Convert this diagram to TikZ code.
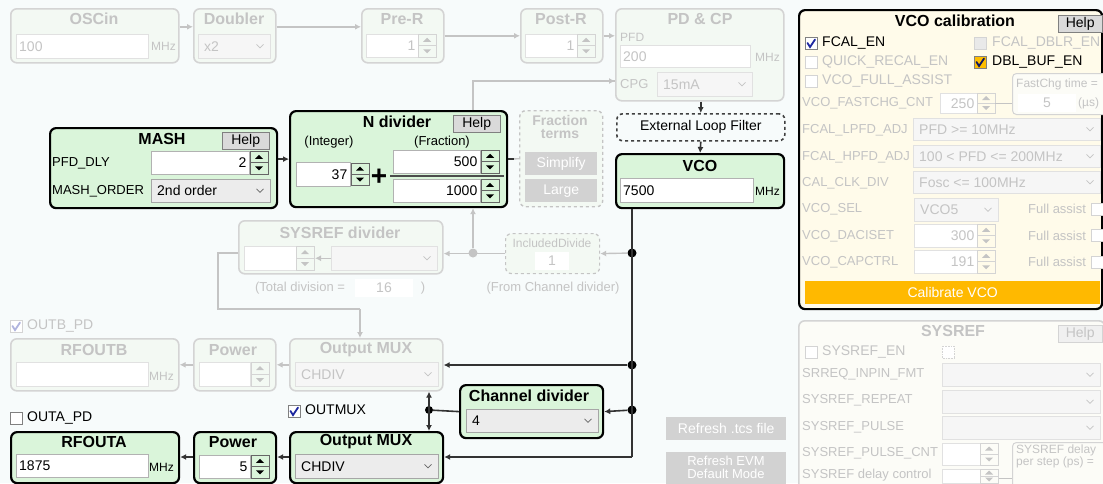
\documentclass[tikz,border=0pt]{standalone}
\usepackage{fontspec}
\setmainfont{Liberation Sans}
\usetikzlibrary{positioning}
\usetikzlibrary{arrows.meta}

\definecolor{bgc}{RGB}{247,251,251}
\definecolor{onfill}{RGB}{218,245,218}
\definecolor{offfill}{RGB}{243,249,243}
\definecolor{offline}{RGB}{212,212,212}
\definecolor{offtext}{RGB}{196,196,196}
\definecolor{calfill}{RGB}{255,251,234}
\definecolor{calbtn}{RGB}{255,185,0}
\definecolor{tickblue}{RGB}{30,40,160}
\definecolor{tickorange}{RGB}{255,190,0}
\definecolor{spinfill}{RGB}{218,218,218}
\definecolor{dropfill}{RGB}{236,236,236}
\definecolor{btngray}{RGB}{210,210,210}
\definecolor{sysfill}{RGB}{252,252,247}

\tikzset{
  blk/.style={draw=black, line width=2.2pt, rounded corners=6pt, fill=onfill, anchor=north west, inner sep=0},
  blkoff/.style={draw=offline, line width=1.6pt, rounded corners=6pt, fill=offfill, anchor=north west, inner sep=0},
  ttl/.style={font=\bfseries\fontsize{16}{16}\selectfont, inner sep=0},
  ttloff/.style={ttl, text=offtext},
  lbl/.style={font=\fontsize{13}{13}\selectfont, inner sep=0, anchor=west},
  lbloff/.style={lbl, text=offtext},
  cklbl/.style={lbl, font=\fontsize{14}{14}\selectfont},
  unit/.style={lbl, font=\fontsize{12}{12}\selectfont},
  unitoff/.style={unit, text=offtext},
  fldon/.style={draw=gray!60, fill=white, anchor=north west, inner sep=0, line width=0.5pt},
  fldoff/.style={draw=offline!70, fill=white, anchor=north west, inner sep=0, line width=0.5pt},
  valon/.style={font=\fontsize{14}{14}\selectfont, inner sep=0},
  valoff/.style={valon, text=offtext},
  dropon/.style={fldon, fill=dropfill, draw=gray!70},
  dropoff/.style={fldoff, fill=white!55!dropfill},
  chevon/.style={draw=gray!80!black, line width=0.7pt},
  chevoff/.style={draw=offtext, line width=0.7pt},
  spinon/.style={draw=gray!80!black, fill=spinfill, line width=0.5pt, spintri/.style={fill=black}},
  spinoff/.style={draw=offline, fill=white!60!spinfill, line width=0.5pt, spintri/.style={fill=offtext}},
  cbon/.style={draw=gray, fill=white, line width=0.6pt},
  cboff/.style={draw=offline, fill=white, line width=0.6pt},
  con/.style={draw=black!80, line width=1.6pt},
  conarr/.style={con, -{Latex[length=6pt,width=6pt]}},
  conoff/.style={draw=offtext, line width=1.4pt},
  conoffarr/.style={conoff, -{Latex[length=6pt,width=6pt]}},
  jdot/.style={circle, fill=black, inner sep=0, minimum size=9pt},
  jdotoff/.style={circle, fill=offtext, inner sep=0, minimum size=9pt},
  helpbtn/.style={draw=gray, fill=spinfill, anchor=north west, inner sep=0, font=\fontsize{14}{14}\selectfont},
  greybtn/.style={fill=btngray, anchor=north west, inner sep=0, text=white, font=\fontsize{14}{16}\selectfont},
}

\newcommand{\fldR}[7]{%
  \node[fld#6, minimum width=#4, minimum height=#5] (#1) at (#2,#3) {};
  \node[val#6, anchor=east] (#1-v) at ([xshift=-3pt]#1.east) {#7};}
\newcommand{\fldL}[7]{%
  \node[fld#6, minimum width=#4, minimum height=#5] (#1) at (#2,#3) {};
  \node[val#6, anchor=west] (#1-v) at ([xshift=3pt]#1.west) {#7};}
\newcommand{\drop}[7]{%
  \node[drop#6, minimum width=#4, minimum height=#5] (#1) at (#2,#3) {};
  \node[val#6, anchor=west] (#1-v) at ([xshift=6pt]#1.west) {#7};
  \draw[chev#6] ([xshift=-14pt,yshift=1.8pt]#1.east) -- ++(3.5,3.5) -- ++(3.5,-3.5);}
\newcommand{\spin}[4]{%
  \begin{scope}[spin#4]
    \draw (#1,#2) rectangle ++(18,#3);
    \draw (#1,{#2+#3/2}) -- ++(18,0);
    \fill[spintri] ({#1+5},{#2+#3/4+2}) -- ++(8,0) -- ++(-4,-4) -- cycle;
    \fill[spintri] ({#1+5},{#2+3*#3/4-2}) -- ++(8,0) -- ++(-4,4) -- cycle;
  \end{scope}}
\newcommand{\cbox}[3]{\draw[#3] (#1,#2) rectangle ++(12,12);}
\newcommand{\ctick}[3]{\draw[#3, line width=1.8pt, line cap=round] ({#1+2.5},{#2+6}) -- ({#1+5},{#2+10}) -- ({#1+10},{#2+2.5});}

\begin{document}
\begin{tikzpicture}[x=1pt, y=-1pt]
    \useasboundingbox (0,0) rectangle (1103,483);
    \fill[bgc] (0,0) rectangle (1103,483);

    % reference path (switched off)
    \node[blkoff, minimum width=168, minimum height=54] (OSCin) at (10,8) {};
    \node[ttloff] (OSCin-t) at (94,19) {OSCin};
    \fldL{OSCin-f}{16}{34}{132}{24}{off}{100}
    \node[unitoff] (OSCin-u) at (151,46) {MHz};

    \node[blkoff, minimum width=82, minimum height=54] (Doubler) at (193,8) {};
    \node[ttloff] (Doubler-t) at (234,19) {Doubler};
    \drop{Doubler-f}{198}{34}{72}{24}{off}{x2}

    \node[blkoff, minimum width=82, minimum height=54] (PreR) at (361,8) {};
    \node[ttloff] (PreR-t) at (402,19) {Pre-R};
    \fldR{PreR-f}{366}{34}{52}{23}{off}{1}
    \spin{418}{34}{23}{off}

    \node[blkoff, minimum width=82, minimum height=54] (PostR) at (520,8) {};
    \node[ttloff] (PostR-t) at (561,19) {Post-R};
    \fldR{PostR-f}{525}{34}{52}{23}{off}{1}
    \spin{577}{34}{23}{off}

    \node[blkoff, minimum width=168, minimum height=92] (PDCP) at (615,8) {};
    \node[ttloff] (PDCP-t) at (700,19) {PD \& CP};
    \node[unitoff] (PDCP-pfd) at (620,37) {PFD};
    \fldL{PDCP-f}{620}{45}{130}{22}{off}{200}
    \node[unitoff] (PDCP-u) at (755,57) {MHz};
    \node[lbloff] (PDCP-cpg) at (620,84) {CPG};
    \drop{PDCP-d}{657}{72}{95}{24}{off}{15mA}

    \draw[conoffarr] ([yshift=9pt]OSCin.east) -- ([yshift=9pt]Doubler.west);
    \draw[conoffarr] ([yshift=9pt]Doubler.east) -- ([yshift=9pt]PreR.west);
    \draw[conoffarr] (PreR.east) -- (PostR.west);
    \draw[conoffarr] (PostR.east) -- (PostR.east -| PDCP.west);

    % loop
    \node[blk, minimum width=227, minimum height=80] (MASH) at (49,127) {};
    \node[ttl] (MASH-t) at (162,139) {MASH};
    \node[helpbtn, minimum width=47, minimum height=17] (MASH-h) at (222,132) {Help};
    \node[lbl] (MASH-dly) at (52,163) {PFD\_DLY};
    \fldR{MASH-f}{151}{151}{98}{23}{on}{2}
    \spin{250}{151}{23}{on}
    \node[lbl] (MASH-ord) at (52,191) {MASH\_ORDER};
    \drop{MASH-d}{151}{179}{119}{23}{on}{2nd order}

    \node[blk, minimum width=217, minimum height=96] (Ndiv) at (289,110) {};
    \node[ttl] (Ndiv-t) at (397,122) {N divider};
    \node[helpbtn, minimum width=47, minimum height=17] (Ndiv-h) at (453,115) {Help};
    \node[lbl, anchor=center] (Ndiv-int) at (329,142) {(Integer)};
    \node[lbl, anchor=center] (Ndiv-frac) at (442,142) {(Fraction)};
    \fldR{Ndiv-i}{296}{162}{54}{24}{on}{37}
    \spin{351}{163}{22}{on}
    \node[font=\bfseries\fontsize{28}{28}\selectfont, inner sep=0] (Ndiv-plus) at (379,177) {+};
    \fldR{Ndiv-n}{393}{150}{87}{23}{on}{500}
    \spin{481}{150}{23}{on}
    \draw[draw=black!70, line width=2pt] (390,176) -- (504,176);
    \fldR{Ndiv-d}{393}{179}{87}{23}{on}{1000}
    \spin{481}{179}{23}{on}

    \node[blkoff, draw=offtext, dashed, line width=1.4pt, minimum width=83, minimum height=96] (FracT) at (519,110) {};
    \node[ttloff, font=\bfseries\fontsize{14}{13}\selectfont, align=center] (FracT-t) at (560,127) {Fraction\\terms};
    \node[greybtn, minimum width=72, minimum height=23] (FracT-s) at (525,152) {Simplify};
    \node[greybtn, minimum width=72, minimum height=23] (FracT-l) at (525,179) {Large};

    \node[draw=black!75, dashed, line width=1.6pt, rounded corners=6pt, fill=bgc, anchor=north west, minimum width=168, minimum height=27, inner sep=0, font=\fontsize{14}{14}\selectfont] (ELF) at (616,113) {External Loop Filter};

    \node[blk, minimum width=168, minimum height=54] (VCO) at (615,153) {};
    \node[ttl] (VCO-t) at (700,166) {VCO};
    \fldL{VCO-f}{620}{178}{133}{24}{on}{7500}
    \node[unit] (VCO-u) at (755,191) {MHz};

    \draw[conarr] (MASH.east |- Ndiv.west) -- (Ndiv.west);
    \draw[conoff] (Ndiv.east) -- (FracT.west);
    \draw[con] (Ndiv.east) -- ++(6,0);
    \draw[conarr] (PDCP.south -| ELF.north) -- (ELF.north);
    \draw[conarr] (ELF.south) -- (VCO.north);

    % sysref divider
    \node[blkoff, minimum width=204, minimum height=53] (SysDiv) at (238,220) {};
    \node[ttloff] (SysDiv-t) at (340,233) {SYSREF divider};
    \fldR{SysDiv-f}{244}{246}{52}{24}{off}{}
    \spin{296}{246}{24}{off}
    \drop{SysDiv-d}{331}{246}{106}{24}{off}{}
    \draw[conoffarr] (SysDiv-d.west) -- ++(-16,0);
    \node[lbloff, anchor=center] (SysDiv-tot) at (300,288) {(Total division =};
    \node[valoff, fill=white, minimum width=58, minimum height=18] (SysDiv-n) at (384,288) {16};
    \node[lbloff, anchor=center] (SysDiv-cl) at (423,288) {)};

    \node[blkoff, draw=offtext, dashed, line width=1.2pt, minimum width=94, minimum height=40] (IncDiv) at (505,233) {};
    \node[unitoff, anchor=center] (IncDiv-t) at (552,243) {IncludedDivide};
    \node[valoff, fill=white, minimum width=34, minimum height=18] (IncDiv-v) at (552,261) {1};
    \node[lbloff, anchor=center] (IncDiv-from) at (553,288) {(From Channel divider)};

    \node[jdot] (d1) at (632,253) {};
    \node[jdot] (d2) at (632,365) {};
    \node[jdot] (d3) at (632,410) {};
    \coordinate (d4) at (632,457);
    \node[jdotoff] (gd) at (473,253) {};
    \coordinate (sbend) at (360,309);

    \draw[conoff] (Ndiv.north -| gd) |- (PDCP.west |- 0,81);
    \draw[conoffarr] ([xshift=-8pt]PDCP.west |- 0,81) -- (PDCP.west |- 0,81);
    \draw[conoffarr] (d1) -- (IncDiv.east);
    \draw[conoffarr] (IncDiv.west) -- (SysDiv.east |- IncDiv.west);
    \draw[conoffarr] (gd) -- (Ndiv.south -| gd);
    \draw[conoff] (SysDiv.west |- d1) -- ++(-20,0) |- (sbend);
    \draw[conoffarr] (sbend) -- (sbend |- 0,338);

    % outputs
    \cbox{10}{320}{cboff}
    \ctick{10}{320}{tickblue!35}
    \node[cklbl, text=offtext] (OUTB-pd) at (27,326) {OUTB\_PD};

    \node[blkoff, minimum width=168, minimum height=52] (RFOUTB) at (10,338) {};
    \node[ttloff] (RFOUTB-t) at (94,350) {RFOUTB};
    \fldL{RFOUTB-f}{16}{362}{132}{24}{off}{}
    \node[unitoff] (RFOUTB-u) at (149,376) {MHz};

    \node[blkoff, minimum width=82, minimum height=52] (PowB) at (193,338) {};
    \node[ttloff] (PowB-t) at (233,350) {Power};
    \fldR{PowB-f}{199}{362}{51}{24}{off}{}
    \spin{251}{362}{24}{off}

    \node[blkoff, minimum width=153, minimum height=52] (OutMUXB) at (289,338) {};
    \node[ttloff] (OutMUXB-t) at (366,350) {Output MUX};
    \drop{OutMUXB-d}{295}{362}{143}{24}{off}{CHDIV}

    \draw[conoffarr] (OutMUXB.west) -- (PowB.east);
    \draw[conoffarr] (PowB.west) -- (RFOUTB.east);

    \node[blk, minimum width=143, minimum height=53] (ChDiv) at (459,384) {};
    \node[ttl] (ChDiv-t) at (529,396) {Channel divider};
    \drop{ChDiv-d}{466}{409}{132}{23}{on}{4}

    \cbox{288}{405}{cbon}
    \ctick{288}{405}{tickblue}
    \node[cklbl] (OUTMUX) at (305,410) {OUTMUX};

    \cbox{10}{412}{cbon}
    \node[cklbl] (OUTA-pd) at (27,418) {OUTA\_PD};

    \node[blk, minimum width=168, minimum height=51] (RFOUTA) at (10,431) {};
    \node[ttl] (RFOUTA-t) at (94,442) {RFOUTA};
    \fldL{RFOUTA-f}{16}{454}{132}{23}{on}{1875}
    \node[unit] (RFOUTA-u) at (149,467) {MHz};

    \node[blk, minimum width=82, minimum height=51] (PowA) at (193,431) {};
    \node[ttl] (PowA-t) at (233,442) {Power};
    \fldR{PowA-f}{199}{455}{51}{23}{on}{5}
    \spin{251}{455}{23}{on}

    \node[blk, minimum width=153, minimum height=51] (OutMUXA) at (289,431) {};
    \node[ttl] (OutMUXA-t) at (366,442) {Output MUX};
    \drop{OutMUXA-d}{295}{454}{143}{24}{on}{CHDIV}

    \node[jdot, minimum size=8pt] (d5) at (429,410) {};
    \draw[con, {Latex[length=6pt,width=6pt]}-{Latex[length=6pt,width=6pt]}] (OutMUXB.south -| d5) -- (OutMUXA.north -| d5);
    \draw[con] (ChDiv.west) -- (d5);

    \draw[con] (VCO.south -| d1) -- (d4);
    \draw[conarr] (d2) -- (OutMUXB.east |- d2);
    \draw[conarr] (d3) -- (ChDiv.east);
    \draw[conarr] (d4) -- (OutMUXA.east |- d4);
    \draw[conarr] (OutMUXA.west |- d4) -- (PowA.east |- d4);
    \draw[conarr] (PowA.west |- d4) -- (RFOUTA.east |- d4);

    \node[greybtn, minimum width=120, minimum height=23] (tcs) at (666,417) {Refresh .tcs file};
    \node[greybtn, minimum width=120, minimum height=40] (evm) at (666,452) {};
    \node[text=white, align=center, inner sep=0, font=\fontsize{13}{13}\selectfont] (evm-t) at (726,467) {Refresh EVM\\Default Mode};

    % VCO calibration
    \node[draw=black, line width=2.2pt, rounded corners=6pt, fill=calfill, anchor=north west, minimum width=303, minimum height=299, inner sep=0] (VCOcal) at (798,9) {};
    \node[ttl] (VCOcal-t) at (955,21) {VCO calibration};
    \node[helpbtn, minimum width=44, minimum height=17] (VCOcal-h) at (1058,15) {Help};

    \cbox{805}{37}{cbon}
    \ctick{805}{37}{tickblue}
    \node[cklbl] (fcal) at (822,43) {FCAL\_EN};
    \cbox{974}{37}{cboff, fill=spinfill!60}
    \node[cklbl, text=offtext] (dblr) at (992,43) {FCAL\_DBLR\_EN};
    \cbox{805}{56}{cboff}
    \node[cklbl, text=offtext] (qrecal) at (822,62) {QUICK\_RECAL\_EN};
    \cbox{974}{56}{cbon, fill=tickorange}
    \ctick{974}{56}{tickblue!60!black}
    \node[cklbl] (dblbuf) at (992,62) {DBL\_BUF\_EN};
    \cbox{805}{75}{cboff}
    \node[cklbl, text=offtext] (fullas) at (822,81) {VCO\_FULL\_ASSIST};

    \node[lbloff] (fastchg-l) at (802,103) {VCO\_FASTCHG\_CNT};
    \fldR{fastchg}{940}{93}{37}{20}{off}{250}
    \spin{977}{93}{20}{off}
    \node[draw=offline, line width=1pt, rounded corners=4pt, fill=sysfill, anchor=north west, minimum width=95, minimum height=41, inner sep=0] (FastChg) at (1012,73) {};
    \draw[conoff, line width=1pt] (995,103) -- (FastChg.west |- 0,103);
    \node[unitoff] (FastChg-t) at (1016,84) {FastChg time =};
    \node[valoff, fill=white, minimum width=58, minimum height=18] (FastChg-v) at (1047,103) {5};
    \node[unitoff] (FastChg-u) at (1078,103) {(µs)};

    \node[lbloff] (lpfd-l) at (802,130) {FCAL\_LPFD\_ADJ};
    \drop{lpfd}{913}{118}{187}{22}{off}{PFD >= 10MHz}
    \node[lbloff] (hpfd-l) at (802,157) {FCAL\_HPFD\_ADJ};
    \drop{hpfd}{913}{145}{187}{22}{off}{100 < PFD <= 200MHz}
    \node[lbloff] (clkdiv-l) at (802,183) {CAL\_CLK\_DIV};
    \drop{clkdiv}{913}{171}{187}{22}{off}{Fosc <= 100MHz}
    \node[lbloff] (vcosel-l) at (802,209) {VCO\_SEL};
    \drop{vcosel}{914}{198}{84}{23}{off}{VCO5}
    \node[lbloff] (fa1) at (1028,209) {Full assist};
    \cbox{1091}{203}{cboff}
    \node[lbloff] (daci-l) at (802,236) {VCO\_DACISET};
    \fldR{daci}{914}{224}{63}{23}{off}{300}
    \spin{977}{224}{23}{off}
    \node[lbloff] (fa2) at (1028,236) {Full assist};
    \cbox{1091}{229}{cboff}
    \node[lbloff] (capc-l) at (802,262) {VCO\_CAPCTRL};
    \fldR{capc}{914}{250}{63}{23}{off}{191}
    \spin{977}{250}{23}{off}
    \node[lbloff] (fa3) at (1028,262) {Full assist};
    \cbox{1091}{256}{cboff}
    \node[fill=calbtn, anchor=north west, minimum width=295, minimum height=23, inner sep=0, text=white, font=\fontsize{14}{14}\selectfont] (calbtn) at (805,281) {Calibrate VCO};

    % SYSREF
    \node[draw=offline, line width=1.6pt, rounded corners=6pt, fill=sysfill, anchor=north west, minimum width=306, minimum height=175, inner sep=0] (SYSREF) at (798,320) {};
    \node[ttloff] (SYSREF-t) at (953,331) {SYSREF};
    \node[helpbtn, draw=offline, fill=white!60!spinfill, text=offtext, minimum width=44, minimum height=17] (SYSREF-h) at (1058,325) {Help};
    \cbox{805}{346}{cboff}
    \node[cklbl, text=offtext] (sren) at (822,352) {SYSREF\_EN};
    \cbox{942}{346}{cboff, densely dotted}
    \node[lbloff] (inpin-l) at (802,374) {SRREQ\_INPIN\_FMT};
    \drop{inpin}{942}{363}{158}{23}{off}{}
    \node[lbloff] (rep-l) at (802,400) {SYSREF\_REPEAT};
    \drop{rep}{942}{390}{158}{23}{off}{}
    \node[lbloff] (pul-l) at (802,427) {SYSREF\_PULSE};
    \drop{pul}{942}{416}{158}{23}{off}{}
    \node[lbloff] (pcnt-l) at (802,453) {SYSREF\_PULSE\_CNT};
    \fldR{pcnt}{942}{443}{38}{22}{off}{}
    \spin{980}{443}{22}{off}
    \node[draw=offline, line width=1pt, rounded corners=4pt, fill=sysfill, anchor=north west, minimum width=95, minimum height=50, inner sep=0] (SRdelay) at (1012,442) {};
    \node[unitoff, align=left, font=\fontsize{12}{12}\selectfont] (SRdelay-t) at (1016,456) {SYSREF delay\\per step (ps) =};
    \draw[conoff, line width=1pt] (998,478) -- (SRdelay.west |- 0,478);
    \node[lbloff] (dctl-l) at (802,475) {SYSREF delay control};
    \fldR{dctl}{942}{469}{38}{14}{off}{}
    \spin{980}{469}{14}{off}
\end{tikzpicture}
\end{document}
